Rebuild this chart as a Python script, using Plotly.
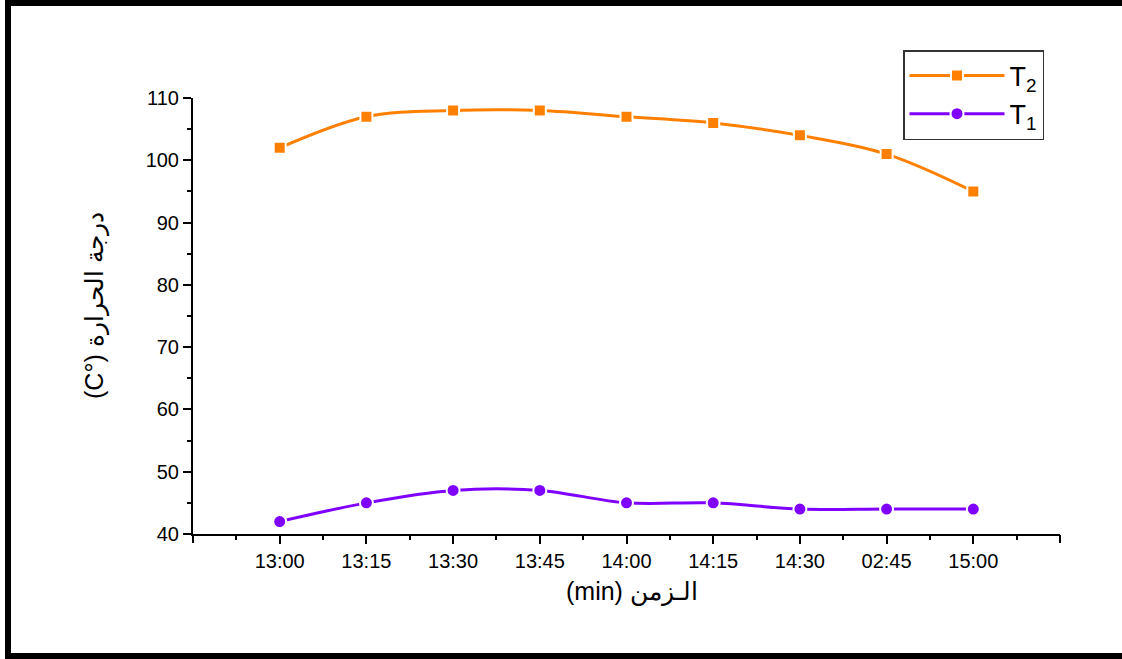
import plotly.graph_objects as go

# ---- data ----
time_labels = ["13:00", "13:15", "13:30", "13:45", "14:00", "14:15", "14:30", "02:45", "15:00"]
t2_values = [102, 107, 108, 108, 107, 106, 104, 101, 95]
t1_values = [42, 45, 47, 47, 45, 45, 44, 44, 44]
y_tick_values = [40, 50, 60, 70, 80, 90, 100, 110]

x_pos = list(range(1, len(time_labels) + 1))
x_end = len(time_labels) + 1
x_minor = [v + 0.5 for v in range(0, len(time_labels) + 1)]
y_minor = [v + 5 for v in y_tick_values[:-1]]

ORANGE = "#FF8000"
PURPLE = "#8000FF"
FONT = "Liberation Sans, Arial, sans-serif"

fig = go.Figure()
fig.add_trace(go.Scatter(
    x=x_pos, y=t2_values, mode="lines+markers", name="T<sub>2</sub>",
    line=dict(color=ORANGE, width=3, shape="spline", smoothing=1),
    marker=dict(symbol="square", size=12, color=ORANGE, line=dict(color="white", width=2)),
))
fig.add_trace(go.Scatter(
    x=x_pos, y=t1_values, mode="lines+markers", name="T<sub>1</sub>",
    line=dict(color=PURPLE, width=3, shape="spline", smoothing=1),
    marker=dict(symbol="circle", size=13, color=PURPLE, line=dict(color="white", width=2)),
))

L, R, T, B = 193, 62, 98, 125
W, H = 1122, 659
pw = W - L - R
ph = H - T - B

def px_x(px):
    return (px - L) / pw

def px_y(py):
    return (H - B - py) / ph

fig.update_layout(
    width=W, height=H, autosize=False,
    margin=dict(l=L, r=R, t=T, b=B, pad=0),
    paper_bgcolor="white", plot_bgcolor="white",
    font=dict(family=FONT, color="black"),
    showlegend=True,
    legend=dict(
        x=px_x(903), y=px_y(50), xanchor="left", yanchor="top",
        bordercolor="#333333", borderwidth=1.5, bgcolor="white",
        font=dict(size=27, family=FONT), itemwidth=95, tracegroupgap=0,
    ),
    xaxis=dict(
        range=[0, x_end], tickmode="array", tickvals=x_pos, ticktext=time_labels,
        showgrid=False, zeroline=False, showline=True, linecolor="black", linewidth=2,
        ticks="outside", ticklen=8, tickwidth=2, tickcolor="black",
        tickfont=dict(size=20, family=FONT),
        minor=dict(tickmode="array", tickvals=x_minor, ticks="outside", ticklen=4, tickwidth=2, tickcolor="black", showgrid=False),
    ),
    xaxis2=dict(
        overlaying="x", side="bottom", anchor="y", range=[0, x_end], tickmode="array", tickvals=[0, x_end],
        showticklabels=False, showgrid=False, zeroline=False, showline=False,
        ticks="outside", ticklen=8, tickwidth=2, tickcolor="black",
    ),
    yaxis=dict(
        range=[40, 110], tickmode="array", tickvals=y_tick_values,
        showgrid=False, zeroline=False, showline=True, linecolor="black", linewidth=2,
        ticks="outside", ticklen=8, tickwidth=2, tickcolor="black",
        tickfont=dict(size=20, family=FONT),
        minor=dict(tickmode="array", tickvals=y_minor, ticks="outside", ticklen=4, tickwidth=2, tickcolor="black", showgrid=False),
    ),
    annotations=[
        dict(text="(min) الـزمن", xref="paper", yref="paper", x=px_x(632), y=px_y(592),
             xanchor="center", yanchor="middle", showarrow=False, font=dict(size=25, family=FONT)),
        dict(text="(C°) درجة الحرارة", xref="paper", yref="paper", x=px_x(95), y=px_y(306),
             xanchor="center", yanchor="middle", textangle=-90, showarrow=False, font=dict(size=25, family=FONT)),
    ],
    shapes=[
        dict(type="rect", xref="paper", yref="paper", x0=px_x(8), x1=px_x(1140), y0=px_y(656), y1=px_y(3),
             line=dict(color="black", width=6), fillcolor="rgba(0,0,0,0)", layer="below"),
    ],
)

# invisible helper trace so the end-tick axis is drawn
fig.add_trace(go.Scatter(x=[], y=[], xaxis="x2", showlegend=False, hoverinfo="skip"))

fig.write_html("out.html")
